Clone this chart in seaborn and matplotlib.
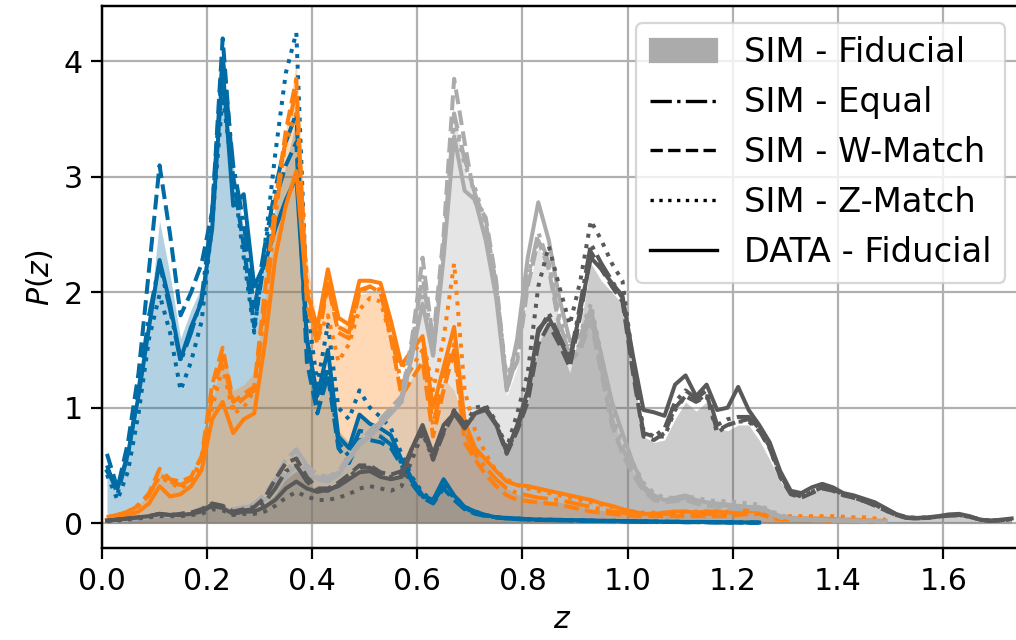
import numpy as np
import matplotlib
matplotlib.use("Agg")
import matplotlib.pyplot as plt
import seaborn as sns
from matplotlib.patches import Patch
from matplotlib.lines import Line2D

# tableau-colorblind10 colours, one per tomographic bin
BIN_COLORS = ["#006BA4", "#FF800E", "#ABABAB", "#595959"]
Z_START, Z_STEP = 0.01, 0.02   # every series is sampled at z = 0.01, 0.03, 0.05, ...

# ---- bin 1 (blue), z = 0.01 .. 1.25 ----
blue_fid = [0.42, 0.32, 0.55, 1.00, 1.75, 2.62, 2.15, 1.60, 1.85, 2.05,
            2.60, 3.90, 3.10, 2.55, 1.95, 2.30, 2.75, 3.10, 3.50, 1.70,
            1.05, 1.30, 0.80, 0.70, 0.92, 0.85, 0.80, 0.72, 0.55, 0.38,
            0.25, 0.20, 0.33, 0.25, 0.14, 0.10, 0.08, 0.06, 0.05, 0.04,
            0.035, 0.03, 0.03, 0.028, 0.025, 0.025, 0.022, 0.02, 0.02, 0.018,
            0.016, 0.015, 0.014, 0.012, 0.012, 0.01, 0.01, 0.01, 0.008, 0.008,
            0.006, 0.005, 0.005]
blue_equal = [0.50, 0.25, 0.60, 1.15, 1.80, 2.25, 1.85, 1.40, 1.65, 1.95,
              2.70, 4.05, 3.10, 2.60, 1.85, 2.40, 2.90, 3.30, 3.55, 1.60,
              1.00, 1.35, 0.70, 0.58, 0.80, 0.78, 0.75, 0.68, 0.52, 0.36,
              0.23, 0.18, 0.32, 0.22, 0.13, 0.09, 0.065, 0.05, 0.04, 0.035,
              0.03, 0.028, 0.026, 0.025, 0.022, 0.02, 0.02, 0.018, 0.016, 0.015,
              0.014, 0.012, 0.012, 0.01, 0.01, 0.008, 0.008, 0.007, 0.006, 0.005,
              0.005, 0.004, 0.004]
blue_wmatch = [0.60, 0.30, 0.70, 1.30, 2.20, 3.10, 2.50, 1.80, 2.00, 2.25,
               2.70, 4.20, 3.00, 2.40, 1.70, 2.30, 2.80, 3.10, 3.30, 1.40,
               0.95, 1.28, 0.65, 0.52, 0.72, 0.72, 0.70, 0.65, 0.50, 0.34,
               0.22, 0.17, 0.30, 0.20, 0.12, 0.08, 0.06, 0.05, 0.04, 0.035,
               0.03, 0.028, 0.026, 0.025, 0.022, 0.02, 0.02, 0.018, 0.016, 0.015,
               0.014, 0.012, 0.012, 0.01, 0.01, 0.008, 0.008, 0.007, 0.006, 0.005,
               0.005, 0.004, 0.004]
blue_zmatch = [0.42, 0.20, 0.45, 0.95, 1.60, 1.98, 1.65, 1.15, 1.40, 1.75,
               2.60, 3.70, 3.00, 2.30, 1.65, 2.40, 3.20, 3.90, 4.25, 1.90,
               1.20, 1.72, 1.00, 0.90, 1.15, 1.00, 0.92, 0.82, 0.60, 0.40,
               0.26, 0.20, 0.35, 0.24, 0.14, 0.10, 0.07, 0.05, 0.045, 0.04,
               0.035, 0.03, 0.03, 0.028, 0.026, 0.025, 0.022, 0.02, 0.02, 0.018,
               0.016, 0.015, 0.014, 0.012, 0.012, 0.01, 0.01, 0.01, 0.008, 0.008,
               0.006, 0.005, 0.005]
blue_data = [0.45, 0.30, 0.60, 1.10, 1.70, 2.28, 1.90, 1.42, 1.70, 1.92,
             2.55, 3.95, 2.75, 2.85, 2.05, 2.25, 2.55, 2.80, 3.00, 1.60,
             1.10, 1.50, 0.75, 0.65, 0.94, 0.86, 0.82, 0.76, 0.55, 0.38,
             0.24, 0.20, 0.38, 0.24, 0.14, 0.10, 0.07, 0.05, 0.045, 0.04,
             0.035, 0.03, 0.03, 0.028, 0.026, 0.025, 0.022, 0.02, 0.02, 0.018,
             0.016, 0.015, 0.014, 0.012, 0.012, 0.01, 0.01, 0.01, 0.008, 0.008,
             0.006, 0.005, 0.005]

# ---- bin 2 (orange), z = 0.01 .. 1.49 ----
orange_fid = [0.05, 0.07, 0.10, 0.16, 0.25, 0.45, 0.40, 0.35, 0.38, 0.52,
              1.00, 1.52, 1.15, 1.20, 1.30, 1.90, 2.60, 3.40, 4.00, 2.30,
              1.70, 2.15, 1.70, 1.72, 1.98, 2.00, 2.00, 1.65, 1.15, 1.25,
              1.40, 0.95, 1.25, 1.15, 0.85, 0.65, 0.52, 0.40, 0.30, 0.25,
              0.22, 0.20, 0.19, 0.18, 0.16, 0.14, 0.12, 0.11, 0.10, 0.09,
              0.08, 0.08, 0.08, 0.08, 0.08, 0.08, 0.08, 0.08, 0.08, 0.09,
              0.09, 0.10, 0.11, 0.07, 0.04, 0.03, 0.03, 0.03, 0.03, 0.025,
              0.025, 0.02, 0.02, 0.02, 0.015]
orange_equal = [0.05, 0.07, 0.10, 0.15, 0.24, 0.42, 0.36, 0.33, 0.38, 0.55,
                1.10, 1.45, 1.00, 1.08, 1.15, 1.85, 2.65, 3.35, 3.75, 2.00,
                1.60, 2.10, 1.70, 1.65, 2.02, 2.05, 2.02, 1.65, 1.20, 1.35,
                1.50, 0.85, 1.25, 1.55, 0.80, 0.60, 0.48, 0.38, 0.30, 0.26,
                0.24, 0.22, 0.21, 0.20, 0.18, 0.16, 0.14, 0.12, 0.10, 0.09,
                0.08, 0.08, 0.08, 0.08, 0.08, 0.08, 0.08, 0.08, 0.08, 0.08,
                0.09, 0.10, 0.11, 0.07, 0.04, 0.04, 0.04, 0.035, 0.03, 0.03,
                0.025, 0.025, 0.02, 0.02, 0.015]
orange_wmatch = [0.05, 0.07, 0.10, 0.15, 0.26, 0.47, 0.38, 0.36, 0.40, 0.58,
                 1.20, 1.52, 1.05, 1.12, 1.18, 2.00, 2.75, 3.40, 3.85, 1.90,
                 1.55, 2.07, 1.65, 1.60, 2.00, 2.05, 2.00, 1.60, 1.10, 1.25,
                 1.40, 0.75, 1.15, 1.50, 0.70, 0.55, 0.42, 0.32, 0.24, 0.20,
                 0.19, 0.18, 0.17, 0.16, 0.14, 0.12, 0.10, 0.09, 0.08, 0.07,
                 0.06, 0.06, 0.06, 0.06, 0.06, 0.06, 0.06, 0.06, 0.06, 0.06,
                 0.07, 0.08, 0.08, 0.05, 0.03, 0.03, 0.03, 0.03, 0.025, 0.02,
                 0.02, 0.02, 0.015, 0.015, 0.01]
orange_zmatch = [0.05, 0.07, 0.10, 0.16, 0.25, 0.40, 0.35, 0.30, 0.36, 0.50,
                 1.00, 1.35, 0.95, 1.00, 1.15, 1.90, 2.80, 3.30, 3.55, 2.10,
                 1.60, 1.80, 1.40, 1.55, 1.85, 1.95, 1.92, 1.60, 1.35, 1.45,
                 1.60, 1.15, 1.60, 2.25, 1.15, 0.80, 0.60, 0.45, 0.38, 0.33,
                 0.30, 0.28, 0.26, 0.24, 0.22, 0.20, 0.18, 0.16, 0.14, 0.12,
                 0.10, 0.09, 0.09, 0.09, 0.09, 0.10, 0.10, 0.10, 0.10, 0.10,
                 0.10, 0.11, 0.12, 0.08, 0.06, 0.06, 0.06, 0.06, 0.06, 0.06,
                 0.055, 0.05, 0.05, 0.04, 0.03]
orange_data = [0.03, 0.05, 0.07, 0.10, 0.17, 0.32, 0.23, 0.25, 0.32, 0.46,
               0.90, 1.05, 0.78, 0.90, 0.95, 1.55, 2.30, 2.75, 3.05, 2.00,
               1.70, 2.20, 1.78, 1.72, 2.10, 2.10, 2.08, 1.75, 1.37, 1.50,
               1.62, 1.00, 1.35, 1.70, 0.88, 0.65, 0.55, 0.45, 0.36, 0.33,
               0.32, 0.30, 0.28, 0.26, 0.24, 0.22, 0.20, 0.17, 0.15, 0.12,
               0.10, 0.08, 0.08, 0.09, 0.10, 0.10, 0.09, 0.10, 0.10, 0.09,
               0.10, 0.12, 0.13, 0.08, 0.05, 0.04, 0.04, 0.04, 0.04, 0.035,
               0.03, 0.03, 0.025, 0.02, 0.02]

# ---- bin 3 (light grey), z = 0.01 .. 1.49 ----
light_fid = [0.02, 0.02, 0.03, 0.04, 0.05, 0.06, 0.06, 0.07, 0.08, 0.11,
             0.14, 0.13, 0.11, 0.12, 0.15, 0.22, 0.32, 0.45, 0.58, 0.48,
             0.40, 0.38, 0.45, 0.58, 0.70, 0.78, 0.88, 0.98, 1.08, 1.50,
             2.10, 1.50, 2.40, 3.55, 3.05, 2.85, 2.60, 2.05, 1.10, 1.35,
             2.00, 2.40, 2.20, 1.75, 1.45, 1.55, 1.85, 1.40, 0.95, 0.65,
             0.45, 0.30, 0.22, 0.20, 0.20, 0.22, 0.19, 0.17, 0.16, 0.15,
             0.14, 0.13, 0.13, 0.09, 0.05, 0.035, 0.03, 0.03, 0.025, 0.025,
             0.02, 0.02, 0.02, 0.015, 0.015]
light_equal = [0.02, 0.02, 0.03, 0.04, 0.05, 0.07, 0.06, 0.07, 0.08, 0.12,
               0.15, 0.14, 0.11, 0.13, 0.16, 0.24, 0.36, 0.55, 0.64, 0.50,
               0.40, 0.38, 0.44, 0.56, 0.70, 0.78, 0.88, 0.98, 1.08, 1.55,
               2.15, 1.50, 2.40, 3.55, 3.15, 2.85, 2.60, 2.05, 1.15, 1.45,
               2.10, 2.52, 2.25, 1.75, 1.45, 1.55, 1.80, 1.35, 0.90, 0.65,
               0.46, 0.30, 0.22, 0.19, 0.20, 0.22, 0.19, 0.17, 0.16, 0.15,
               0.14, 0.13, 0.13, 0.09, 0.05, 0.035, 0.03, 0.03, 0.025, 0.02,
               0.02, 0.02, 0.015, 0.015, 0.01]
light_wmatch = [0.02, 0.02, 0.03, 0.04, 0.05, 0.07, 0.07, 0.08, 0.09, 0.13,
                0.17, 0.15, 0.12, 0.14, 0.17, 0.25, 0.38, 0.55, 0.62, 0.50,
                0.42, 0.40, 0.45, 0.58, 0.70, 0.80, 0.90, 1.00, 1.10, 1.60,
                2.30, 1.58, 2.50, 3.85, 3.30, 2.78, 2.65, 2.10, 1.20, 1.40,
                2.05, 2.45, 2.20, 1.70, 1.40, 1.50, 1.75, 1.30, 0.85, 0.60,
                0.42, 0.28, 0.20, 0.18, 0.19, 0.20, 0.17, 0.15, 0.14, 0.13,
                0.12, 0.12, 0.12, 0.08, 0.05, 0.03, 0.03, 0.025, 0.025, 0.02,
                0.02, 0.02, 0.015, 0.015, 0.01]
light_zmatch = [0.02, 0.02, 0.03, 0.04, 0.05, 0.06, 0.06, 0.07, 0.08, 0.11,
                0.14, 0.12, 0.10, 0.12, 0.15, 0.22, 0.32, 0.45, 0.55, 0.46,
                0.38, 0.36, 0.42, 0.55, 0.68, 0.76, 0.86, 0.96, 1.05, 1.45,
                2.05, 1.45, 2.35, 3.50, 3.10, 2.90, 2.60, 2.05, 1.25, 1.55,
                2.15, 2.45, 2.25, 1.80, 1.55, 1.65, 1.90, 1.45, 1.00, 0.72,
                0.52, 0.35, 0.26, 0.22, 0.22, 0.23, 0.22, 0.20, 0.19, 0.19,
                0.18, 0.17, 0.16, 0.11, 0.07, 0.05, 0.04, 0.035, 0.03, 0.03,
                0.025, 0.025, 0.02, 0.02, 0.015]
light_data = [0.02, 0.02, 0.03, 0.04, 0.05, 0.07, 0.06, 0.07, 0.08, 0.12,
              0.16, 0.13, 0.10, 0.12, 0.14, 0.20, 0.28, 0.40, 0.50, 0.45,
              0.38, 0.36, 0.42, 0.55, 0.68, 0.75, 0.85, 0.95, 1.05, 1.45,
              1.90, 1.45, 2.30, 3.35, 2.88, 2.80, 2.45, 1.95, 1.15, 1.60,
              2.30, 2.78, 2.45, 1.95, 1.58, 1.62, 1.85, 1.45, 1.05, 0.78,
              0.52, 0.32, 0.24, 0.20, 0.22, 0.24, 0.20, 0.18, 0.17, 0.16,
              0.15, 0.14, 0.14, 0.10, 0.06, 0.04, 0.035, 0.03, 0.03, 0.025,
              0.025, 0.02, 0.02, 0.02, 0.015]

# ---- bin 4 (dark grey), z = 0.01 .. 1.73 ----
dark_fid = [0.02, 0.03, 0.04, 0.05, 0.06, 0.07, 0.07, 0.07, 0.08, 0.10,
            0.14, 0.12, 0.08, 0.10, 0.11, 0.16, 0.25, 0.38, 0.45, 0.35,
            0.28, 0.28, 0.32, 0.38, 0.45, 0.48, 0.42, 0.40, 0.42, 0.62,
            0.80, 0.58, 0.80, 1.00, 0.88, 0.98, 1.00, 0.85, 0.62, 0.82,
            1.05, 1.55, 1.75, 1.55, 1.30, 1.70, 2.25, 2.10, 2.00, 1.90,
            1.30, 0.75, 0.70, 0.72, 0.90, 1.05, 0.97, 1.05, 0.82, 0.80,
            0.85, 0.85, 0.72, 0.55, 0.36, 0.26, 0.24, 0.28, 0.30, 0.28,
            0.24, 0.21, 0.18, 0.14, 0.10, 0.07, 0.04, 0.035, 0.04, 0.05,
            0.06, 0.065, 0.05, 0.025, 0.02, 0.02, 0.03]
dark_equal = [0.02, 0.03, 0.04, 0.05, 0.06, 0.08, 0.07, 0.08, 0.09, 0.11,
              0.16, 0.14, 0.09, 0.11, 0.12, 0.18, 0.30, 0.45, 0.50, 0.36,
              0.28, 0.28, 0.33, 0.40, 0.48, 0.48, 0.42, 0.40, 0.43, 0.62,
              0.82, 0.58, 0.80, 0.97, 0.86, 0.96, 1.00, 0.86, 0.62, 0.82,
              1.10, 1.65, 1.82, 1.62, 1.42, 1.90, 2.42, 2.25, 2.10, 1.95,
              1.35, 0.78, 0.75, 0.82, 1.05, 1.15, 1.08, 1.15, 0.85, 0.90,
              0.92, 0.92, 0.82, 0.66, 0.42, 0.26, 0.23, 0.27, 0.31, 0.29,
              0.25, 0.22, 0.19, 0.16, 0.11, 0.07, 0.045, 0.04, 0.045, 0.055,
              0.065, 0.07, 0.055, 0.03, 0.02, 0.025, 0.035]
dark_wmatch = [0.02, 0.03, 0.04, 0.05, 0.06, 0.08, 0.07, 0.08, 0.09, 0.12,
               0.17, 0.15, 0.10, 0.12, 0.14, 0.22, 0.38, 0.52, 0.56, 0.40,
               0.30, 0.30, 0.35, 0.42, 0.50, 0.50, 0.44, 0.42, 0.45, 0.65,
               0.82, 0.55, 0.78, 0.95, 0.85, 0.95, 1.00, 0.85, 0.60, 0.80,
               1.05, 1.55, 1.72, 1.55, 1.35, 1.80, 2.35, 2.20, 2.05, 1.92,
               1.30, 0.75, 0.72, 0.78, 1.00, 1.10, 1.05, 1.12, 0.80, 0.85,
               0.88, 0.90, 0.80, 0.65, 0.40, 0.25, 0.22, 0.26, 0.30, 0.28,
               0.24, 0.22, 0.19, 0.15, 0.11, 0.07, 0.045, 0.04, 0.045, 0.055,
               0.065, 0.07, 0.055, 0.03, 0.02, 0.025, 0.035]
dark_zmatch = [0.02, 0.02, 0.03, 0.04, 0.05, 0.06, 0.06, 0.06, 0.07, 0.08,
               0.12, 0.11, 0.07, 0.08, 0.08, 0.10, 0.15, 0.22, 0.27, 0.23,
               0.20, 0.20, 0.22, 0.25, 0.30, 0.32, 0.30, 0.28, 0.32, 0.55,
               0.78, 0.55, 0.80, 0.98, 0.85, 1.00, 1.02, 0.88, 0.65, 0.95,
               1.30, 2.05, 2.40, 2.05, 1.72, 2.10, 2.62, 2.45, 2.25, 2.10,
               1.40, 0.80, 0.75, 0.75, 0.98, 1.10, 1.05, 1.10, 0.78, 0.85,
               0.88, 0.88, 0.80, 0.65, 0.40, 0.26, 0.23, 0.27, 0.31, 0.29,
               0.25, 0.22, 0.19, 0.16, 0.12, 0.08, 0.05, 0.045, 0.05, 0.055,
               0.065, 0.07, 0.055, 0.03, 0.02, 0.025, 0.035]
dark_data = [0.02, 0.03, 0.04, 0.05, 0.06, 0.08, 0.07, 0.07, 0.08, 0.10,
             0.15, 0.13, 0.08, 0.10, 0.10, 0.14, 0.20, 0.30, 0.36, 0.30,
             0.27, 0.29, 0.32, 0.38, 0.44, 0.45, 0.40, 0.38, 0.40, 0.65,
             0.85, 0.60, 0.85, 0.95, 0.82, 0.95, 0.98, 0.85, 0.62, 0.85,
             1.15, 1.68, 1.78, 1.60, 1.40, 1.85, 2.30, 2.20, 2.08, 1.97,
             1.45, 0.98, 0.96, 0.93, 1.20, 1.28, 1.10, 1.20, 0.98, 1.00,
             1.18, 0.98, 0.85, 0.70, 0.45, 0.28, 0.26, 0.31, 0.34, 0.31,
             0.26, 0.24, 0.21, 0.18, 0.13, 0.08, 0.05, 0.045, 0.05, 0.06,
             0.075, 0.08, 0.06, 0.03, 0.02, 0.03, 0.04]

BINS = [
    (blue_fid, blue_equal, blue_wmatch, blue_zmatch, blue_data),
    (orange_fid, orange_equal, orange_wmatch, orange_zmatch, orange_data),
    (light_fid, light_equal, light_wmatch, light_zmatch, light_data),
    (dark_fid, dark_equal, dark_wmatch, dark_zmatch, dark_data),
]
LINE_STYLES = ["-.", "--", ":", "-"]
LEGEND_LABELS = ["SIM - Fiducial", "SIM - Equal", "SIM - W-Match",
                 "SIM - Z-Match", "DATA - Fiducial"]


def zgrid(vals):
    return Z_START + Z_STEP * np.arange(len(vals))


fig = plt.figure(figsize=(6.35, 4.0), dpi=160)
ax = fig.add_axes([0.1001, 0.143, 0.906, 0.8475])
ax.set_axisbelow(True)
ax.grid(True, color="#b0b0b0", lw=1.0)

for color, series in zip(BIN_COLORS, BINS):
    fid = np.asarray(series[0])
    ax.fill_between(zgrid(fid), 0, fid, color=color, alpha=0.3, lw=0)
    for vals, ls in zip(series[1:], LINE_STYLES):
        sns.lineplot(x=zgrid(vals), y=vals, ax=ax, color=color,
                     linestyle=ls, lw=1.8)

ax.set_xlim(0, 1.75)
ax.set_ylim(-0.22, 4.48)
ax.set_xticks(np.arange(0, 1.61, 0.2))
ax.set_yticks([0, 1, 2, 3, 4])
ax.tick_params(labelsize=13.5, length=5, width=1.0)
for sp in ax.spines.values():
    sp.set_linewidth(1.1)
ax.set_xlabel("$z$", fontsize=13.5)
ax.set_ylabel("$P(z)$", fontsize=13.5)

handles = [Patch(color="#ABABAB")] + [
    Line2D([], [], color="black", linestyle=ls, lw=1.5) for ls in LINE_STYLES]
ax.legend(handles, LEGEND_LABELS, loc="upper right", fontsize=15.2)

fig.savefig("out.png", dpi=160)
